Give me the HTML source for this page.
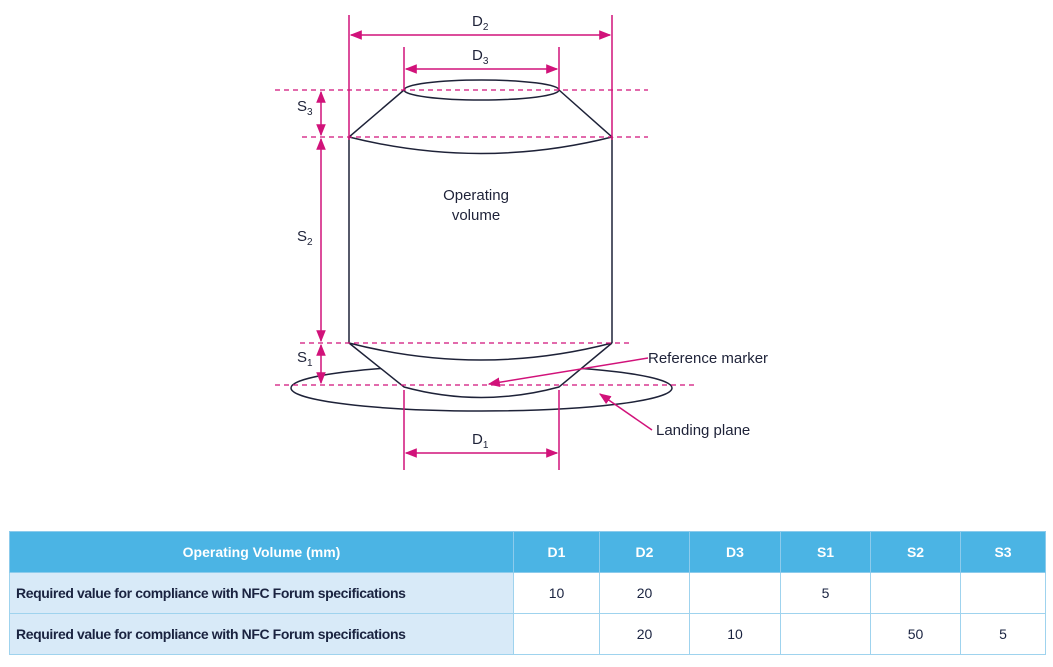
<!DOCTYPE html>
<html><head><meta charset="utf-8"><style>
body{margin:0;width:1053px;height:667px;background:#fff;overflow:hidden;font-family:"Liberation Sans",sans-serif}
svg{position:absolute;left:0;top:0}
table{position:absolute;left:9px;top:531px;width:1036px;table-layout:fixed;border-collapse:collapse;font-family:"Liberation Sans Narrow","Liberation Sans",sans-serif;font-size:14px;color:#1a2340}
td{border:1px solid #9fd3ee;height:40px;padding:0;text-align:center;white-space:nowrap;overflow:hidden}
tr.h td{background:#4bb4e4;color:#fff;font-weight:bold;border-color:#8ccbec}
td.l{background:#d8eaf8;text-align:left;padding-left:6px;font-weight:bold;letter-spacing:-0.4px}
</style></head><body>
<svg width="1053" height="530" viewBox="0 0 1053 530">
<defs><marker id="a" viewBox="0 0 10 10" refX="9" refY="5" markerWidth="8" markerHeight="8" orient="auto-start-reverse"><path d="M0,1L10,5L0,9z" fill="#d1127a"/></marker></defs>
<g fill="none" stroke="#1e2238" stroke-width="1.5">
<ellipse cx="481.5" cy="388" rx="190.5" ry="23"/>
<path d="M349,343L612,343L559,387Q481,407 404,387Z" fill="#fff" stroke="none"/>
<path d="M349,343Q481,377 612,343L559,387Q481,408 404,387Z"/>
<ellipse cx="481.5" cy="90" rx="77.5" ry="10"/>
<path d="M404,90L349,137Q481,170 612,137L559,90"/>
<path d="M349,137V343M612,137V343"/>
</g>
<g stroke="#d1127a" stroke-width="1.5" fill="none">
<path d="M349,15V140M612,15V140M404,47V90M559,47V90M404,390V470M559,390V470"/>
<g marker-start="url(#a)" marker-end="url(#a)">
<path d="M351,35H610"/><path d="M406,69H557"/><path d="M406,453H557"/>
<path d="M321,92V135"/><path d="M321,139V341"/><path d="M321,345V383"/>
</g>
<path d="M648,358L489,384" marker-end="url(#a)"/><path d="M652,430L600,394" marker-end="url(#a)"/>
<g stroke-dasharray="5,4" stroke-width="1.3"><path d="M275,90H648M302,137H648M300,343H633M275,385H695"/></g>
</g>
<g font-size="15" fill="#1e2238">
<text x="472" y="26">D<tspan font-size="10" dy="4">2</tspan></text>
<text x="472" y="60">D<tspan font-size="10" dy="4">3</tspan></text>
<text x="472" y="444">D<tspan font-size="10" dy="4">1</tspan></text>
<text x="297" y="111">S<tspan font-size="10" dy="4">3</tspan></text>
<text x="297" y="241">S<tspan font-size="10" dy="4">2</tspan></text>
<text x="297" y="362">S<tspan font-size="10" dy="4">1</tspan></text>
<text x="476" y="200" text-anchor="middle">Operating</text>
<text x="476" y="220" text-anchor="middle">volume</text>
<text x="648" y="363">Reference marker</text>
<text x="656" y="435">Landing plane</text>
</g>
</svg>
<table>
<colgroup><col style="width:504px"><col style="width:86px"><col style="width:90px"><col style="width:91px"><col style="width:90px"><col style="width:90px"><col style="width:85px"></colgroup>
<tr class="h"><td>Operating Volume (mm)</td><td>D1</td><td>D2</td><td>D3</td><td>S1</td><td>S2</td><td>S3</td></tr>
<tr><td class="l">Required value for compliance with NFC Forum specifications</td><td>10</td><td>20</td><td></td><td>5</td><td></td><td></td></tr>
<tr><td class="l">Required value for compliance with NFC Forum specifications</td><td></td><td>20</td><td>10</td><td></td><td>50</td><td>5</td></tr>
</table>
</body></html>
